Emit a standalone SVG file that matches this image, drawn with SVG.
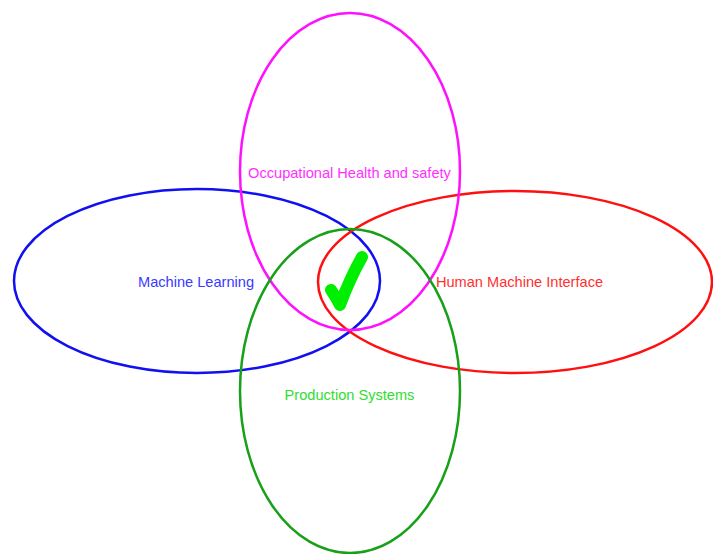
<svg xmlns="http://www.w3.org/2000/svg" width="713" height="554" viewBox="0 0 713 554">
<style>
.e{fill:none;stroke-width:2.5}
.t{font-family:"Liberation Sans",Arial,sans-serif;font-size:14.6px;text-anchor:middle;dominant-baseline:central}
</style>
<rect width="713" height="554" fill="#fff"/>
<g id="ml"><ellipse class="e" cx="197" cy="281" rx="183" ry="92" stroke="#1010f0"/><text class="t" x="196" y="282" fill="#3a3aff">Machine Learning</text></g>
<g id="hmi"><ellipse class="e" cx="515" cy="282" rx="197" ry="91" stroke="#ff1010"/><text class="t" x="519.5" y="282" fill="#ff3030">Human Machine Interface</text></g>
<g id="ohs"><ellipse class="e" cx="350" cy="171.5" rx="110" ry="158.5" stroke="#ff10ff"/><text class="t" x="349.5" y="173" fill="#ff30ff">Occupational Health and safety</text></g>
<g id="ps"><ellipse class="e" cx="350" cy="391" rx="110" ry="162" stroke="#18a018"/><text class="t" x="349.5" y="395" fill="#30dd30">Production Systems</text></g>
<g id="check"><path d="M331 290 Q336 297 340 305 Q350 278 362 257" fill="none" stroke="#00ee00" stroke-width="12" stroke-linecap="round" stroke-linejoin="round"/></g>
</svg>
